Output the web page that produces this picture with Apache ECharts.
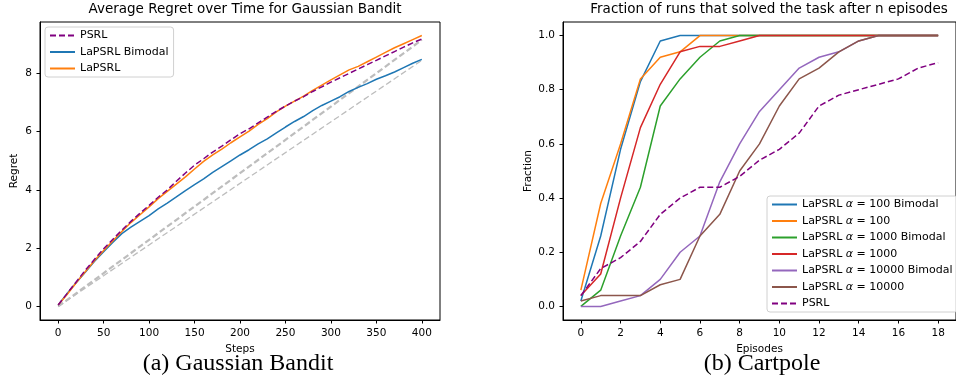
<!DOCTYPE html>
<html><head><meta charset="utf-8">
<script src="https://cdn.jsdelivr.net/npm/echarts@6/dist/echarts.min.js"></script>
<style>html,body{margin:0;padding:0;background:#fff}#c{width:956px;height:379px}</style>
</head><body><div id="c"></div>
<script>
// ---------- Left: Gaussian Bandit ----------
const steps = [0,10,20,30,40,50,60,70,80,90,100,110,120,130,140,150,160,170,180,190,200,210,220,230,240,250,260,270,280,290,300,310,320,330,340,350,360,370,380,390,400];
const psrlRegret = [0.05,0.45,0.85,1.25,1.62,1.98,2.30,2.62,2.92,3.20,3.47,3.75,4.00,4.30,4.58,4.85,5.07,5.30,5.50,5.72,5.93,6.10,6.30,6.50,6.70,6.88,7.05,7.20,7.38,7.54,7.70,7.85,8.00,8.15,8.30,8.45,8.60,8.75,8.90,9.05,9.18];
const lapsrlBimodalRegret = [0.05,0.45,0.82,1.18,1.55,1.88,2.20,2.50,2.72,2.92,3.12,3.35,3.55,3.76,3.98,4.18,4.38,4.60,4.80,5.00,5.20,5.38,5.58,5.75,5.96,6.16,6.35,6.52,6.72,6.90,7.05,7.20,7.38,7.52,7.65,7.80,7.92,8.05,8.20,8.35,8.48];
const lapsrlRegret = [0.05,0.42,0.82,1.20,1.58,1.92,2.25,2.57,2.88,3.15,3.42,3.70,3.95,4.20,4.45,4.72,4.98,5.20,5.40,5.62,5.82,6.02,6.25,6.45,6.68,6.88,7.05,7.22,7.42,7.60,7.78,7.95,8.12,8.24,8.40,8.56,8.72,8.88,9.02,9.16,9.30];
const refSteps = [0,400];
const refHigh = [0,9.15];
const refLow = [0,8.45];
const leftXTicks = [0,50,100,150,200,250,300,350,400];
const leftYTicks = [0,2,4,6,8];

// ---------- Right: Cartpole ----------
const episodes = [0,1,2,3,4,5,6,7,8,9,10,11,12,13,14,15,16,17,18];
const a100Bimodal   = [0.02,0.26,0.58,0.83,0.98,1.00,1.00,1.00,1.00,1.00,1.00,1.00,1.00,1.00,1.00,1.00,1.00,1.00,1.00];
const a100          = [0.06,0.38,0.60,0.84,0.92,0.94,1.00,1.00,1.00,1.00,1.00,1.00,1.00,1.00,1.00,1.00,1.00,1.00,1.00];
const a1000Bimodal  = [0.00,0.06,0.26,0.44,0.74,0.84,0.92,0.98,1.00,1.00,1.00,1.00,1.00,1.00,1.00,1.00,1.00,1.00,1.00];
const a1000         = [0.04,0.12,0.40,0.66,0.82,0.94,0.96,0.96,0.98,1.00,1.00,1.00,1.00,1.00,1.00,1.00,1.00,1.00,1.00];
const a10000Bimodal = [0.00,0.00,0.02,0.04,0.10,0.20,0.26,0.46,0.60,0.72,0.80,0.88,0.92,0.94,0.98,1.00,1.00,1.00,1.00];
const a10000        = [0.02,0.04,0.04,0.04,0.08,0.10,0.26,0.34,0.50,0.60,0.74,0.84,0.88,0.94,0.98,1.00,1.00,1.00,1.00];
const psrlFraction  = [0.04,0.14,0.18,0.24,0.34,0.40,0.44,0.44,0.48,0.54,0.58,0.64,0.74,0.78,0.80,0.82,0.84,0.88,0.90];
const rightXTicks = [0,2,4,6,8,10,12,14,16,18];
const rightYTicks = [0,0.2,0.4,0.6,0.8,1.0];

const FONT = 'DejaVu Sans';
const C = {blue:'#1f77b4',orange:'#ff7f0e',green:'#2ca02c',red:'#d62728',purple:'#9467bd',brown:'#8c564b',psrl:'#800080',gray:'#bdbdbd'};
const zip = (xs, ys) => xs.map((x,i)=>[x,ys[i]]);

function axisCfg(grid,min,max,ticks,name,fmt,gap){
  return {type:'value',gridIndex:grid,min,max,name,nameLocation:'middle',nameGap:gap,
    nameTextStyle:{fontFamily:FONT,fontSize:10.5,color:'#000'},
    axisLine:{show:true,onZero:false,lineStyle:{color:'#000',width:1}},
    axisTick:{show:true,length:3.5,customValues:ticks,lineStyle:{color:'#000'}},
    axisLabel:{customValues:ticks,fontFamily:FONT,fontSize:10.5,color:'#000',margin:8,formatter:fmt},
    splitLine:{show:false}};
}
function line(name,x,y,color,xi,dashed,width){
  return {type:'line',name,xAxisIndex:xi,yAxisIndex:xi,data:zip(x,y),symbol:'none',
    lineStyle:{color,width:width||1.5,type:dashed?[6,3]:'solid'},itemStyle:{color},
    emphasis:{disabled:true},silent:true};
}
const legendBase = {orient:'vertical',itemWidth:25,itemHeight:11,itemGap:5.5,
  padding:[3,5,3,4],backgroundColor:'rgba(255,255,255,0.8)',borderColor:'#d0d0d0',borderWidth:1,borderRadius:3,
  itemStyle:{opacity:0},selectedMode:false};

const chart = echarts.init(document.getElementById('c'),null,{renderer:'canvas'});
chart.setOption({
  animation:false,
  backgroundColor:'#fff',
  title:[
    {text:'Average Regret over Time for Gaussian Bandit',left:240,textAlign:'center',top:-3,textStyle:{fontFamily:FONT,fontSize:13.5,fontWeight:'normal',color:'#000'}},
    {text:'Fraction of runs that solved the task after n episodes',left:764,textAlign:'center',top:-3,textStyle:{fontFamily:FONT,fontSize:13.5,fontWeight:'normal',color:'#000'}},
    {text:'(a) Gaussian Bandit',left:233,textAlign:'center',top:347,textStyle:{fontFamily:'Liberation Serif',fontSize:24,fontWeight:'normal',color:'#000'}},
    {text:'(b) Cartpole',left:757,textAlign:'center',top:347,textStyle:{fontFamily:'Liberation Serif',fontSize:24,fontWeight:'normal',color:'#000'}}
  ],
  grid:[
    {left:40,top:22,width:400,height:298,show:true,borderColor:'#000',borderWidth:1,backgroundColor:'transparent'},
    {left:563,top:22,width:402,height:298,show:true,borderColor:'#000',borderWidth:1,backgroundColor:'transparent'}
  ],
  xAxis:[
    axisCfg(0,-20,420,leftXTicks,'Steps',v=>String(v),22),
    axisCfg(1,-0.9,18.9,rightXTicks,'Episodes',v=>String(v),22)
  ],
  yAxis:[
    axisCfg(0,-0.465,9.765,leftYTicks,'Regret',v=>String(v),20),
    axisCfg(1,-0.05,1.05,rightYTicks,'Fraction',v=>v.toFixed(1),29)
  ],
  legend:[
    Object.assign({},legendBase,{data:['PSRL','LaPSRL Bimodal','LaPSRL'],left:45,top:27,
     textStyle:{fontFamily:FONT,fontSize:11,color:'#000'}}),
    Object.assign({},legendBase,{data:['LaPSRL α = 100 Bimodal','LaPSRL α = 100','LaPSRL α = 1000 Bimodal','LaPSRL α = 1000','LaPSRL α = 10000 Bimodal','LaPSRL α = 10000','PSRL'],
     left:767,top:196,
     formatter:n=>n.replace('α','{i|α}'),
     textStyle:{fontFamily:FONT,fontSize:11,color:'#000',rich:{i:{fontFamily:FONT,fontStyle:'italic',fontSize:11,color:'#000'}}}})
  ],
  series:[
    line('ref high',refSteps,refHigh,C.gray,0,true,2.2),
    line('ref low',refSteps,refLow,C.gray,0,true,1.3),
    line('LaPSRL Bimodal',steps,lapsrlBimodalRegret,C.blue,0),
    line('LaPSRL',steps,lapsrlRegret,C.orange,0),
    line('PSRL',steps,psrlRegret,C.psrl,0,true),
    line('LaPSRL α = 100 Bimodal',episodes,a100Bimodal,C.blue,1),
    line('LaPSRL α = 100',episodes,a100,C.orange,1),
    line('LaPSRL α = 1000 Bimodal',episodes,a1000Bimodal,C.green,1),
    line('LaPSRL α = 1000',episodes,a1000,C.red,1),
    line('LaPSRL α = 10000 Bimodal',episodes,a10000Bimodal,C.purple,1),
    line('LaPSRL α = 10000',episodes,a10000,C.brown,1),
    line('PSRL',episodes,psrlFraction,C.psrl,1,true)
  ]
});
</script></body></html>
